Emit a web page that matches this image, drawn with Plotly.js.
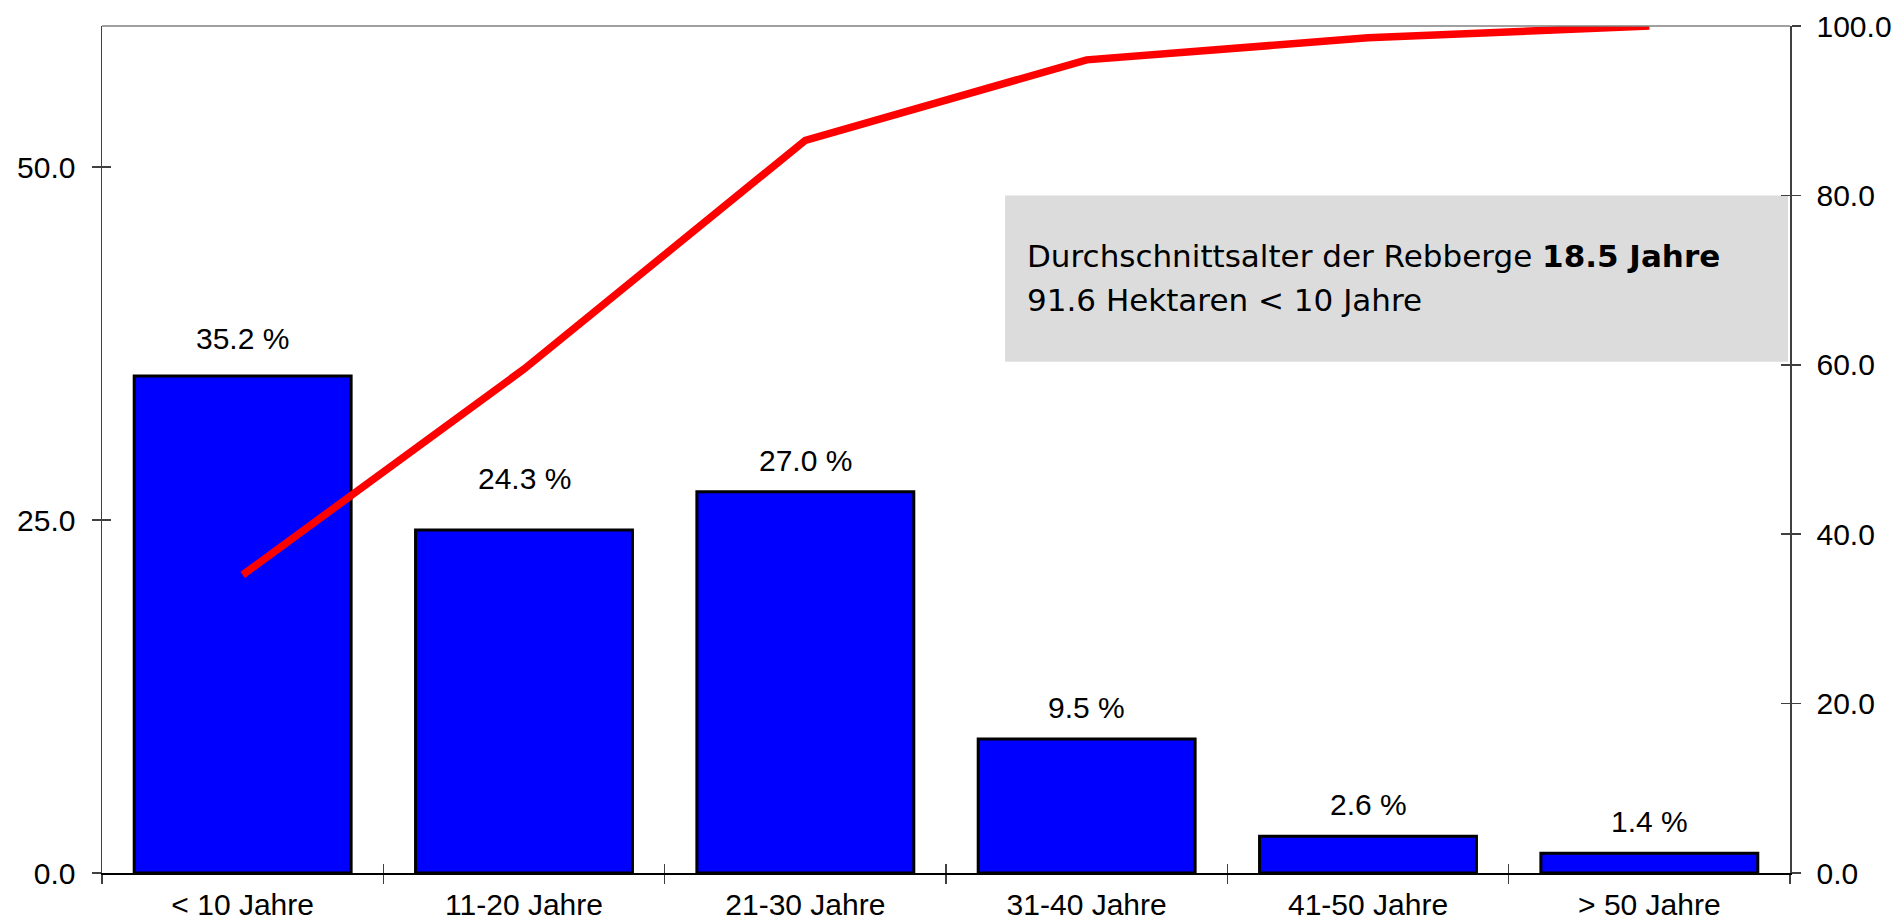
<!DOCTYPE html>
<html>
<head>
<meta charset="utf-8">
<script src="https://cdn.plot.ly/plotly-3.0.1.min.js"></script>
<style>
html,body{margin:0;padding:0;background:#fff;}
#chart{width:1898px;height:923px;}
</style>
</head>
<body>
<div id="chart"></div>
<script>
// ---- data ----
var categories = ["< 10 Jahre", "11-20 Jahre", "21-30 Jahre", "31-40 Jahre", "41-50 Jahre", "> 50 Jahre"];
var shares = [35.2, 24.3, 27.0, 9.5, 2.6, 1.4];
var cumulative = [35.2, 59.5, 86.5, 96.0, 98.6, 100.0];
var leftTicks = [0, 25, 50];
var rightTicks = [0, 20, 40, 60, 80, 100];
var infoLine1 = "Durchschnittsalter der Rebberge <b>18.5 Jahre</b>";
var infoLine2 = "91.6 Hektaren &lt; 10 Jahre";

// ---- layout helpers ----
var labelShift = [19, 33, 13, 13, 13, 13];
var arial = "Liberation Sans, Arial, sans-serif";
var axCol = "#404040";

var traces = [
  {
    type: "bar", x: categories, y: shares, xaxis: "x", yaxis: "y",
    marker: {color: "#0000ff", line: {color: "#000000", width: 3}},
    hoverinfo: "skip", showlegend: false
  },
  {
    type: "scatter", mode: "lines", x: categories, y: cumulative, xaxis: "x", yaxis: "y2",
    line: {color: "#ff0000", width: 7.5},
    hoverinfo: "skip", showlegend: false
  },
  // helper traces so that the overlay axes carry inward ticks
  {
    type: "scatter", mode: "lines", x: categories, y: shares, xaxis: "x2", yaxis: "y3",
    line: {width: 0, color: "rgba(0,0,0,0)"}, hoverinfo: "skip", showlegend: false
  },
  {
    type: "scatter", mode: "lines", x: categories, y: cumulative, xaxis: "x", yaxis: "y4",
    line: {width: 0, color: "rgba(0,0,0,0)"}, hoverinfo: "skip", showlegend: false
  }
];

var annotations = shares.map(function (v, i) {
  return {
    x: categories[i], y: v, xref: "x", yref: "y",
    text: v.toFixed(1) + " %", showarrow: false,
    xanchor: "center", yanchor: "bottom", yshift: labelShift[i],
    font: {family: arial, size: 30, color: "#000"}
  };
});
annotations.push({
  xref: "paper", yref: "paper", x: 0.5468, y: 0.7283, xanchor: "left", yanchor: "middle",
  text: infoLine1, showarrow: false, align: "left",
  font: {family: "DejaVu Sans, sans-serif", size: 31, color: "#000"}
});
annotations.push({
  xref: "paper", yref: "paper", x: 0.5468, y: 0.6764, xanchor: "left", yanchor: "middle",
  text: infoLine2, showarrow: false, align: "left",
  font: {family: "DejaVu Sans, sans-serif", size: 31, color: "#000"}
});

var layout = {
  width: 1898, height: 923,
  margin: {l: 102, r: 108, t: 26, b: 50, pad: 0},
  paper_bgcolor: "#ffffff", plot_bgcolor: "#ffffff",
  bargap: 0.229,
  font: {family: arial, size: 30, color: "#000"},
  xaxis: {
    type: "category", range: [-0.5, 5.5], tickson: "boundaries",
    ticks: "outside", ticklen: 9, tickwidth: 1.5, tickcolor: axCol,
    showline: true, linecolor: "#000", linewidth: 2, mirror: false,
    showgrid: false, zeroline: false, ticklabelstandoff: 4,
    tickfont: {family: arial, size: 30, color: "#000"}
  },
  xaxis2: {
    type: "category", overlaying: "x", anchor: "y", side: "bottom", range: [-0.5, 5.5],
    tickson: "boundaries", ticks: "inside", ticklen: 9, tickwidth: 1.5, tickcolor: axCol,
    showticklabels: false, showline: false, showgrid: false, zeroline: false
  },
  yaxis: {
    range: [0, 60], tickvals: leftTicks, tickformat: ".1f",
    ticks: "outside", ticklen: 9, tickwidth: 1.5, tickcolor: axCol,
    showline: true, linecolor: axCol, linewidth: 1.5,
    showgrid: false, zeroline: false, ticklabelstandoff: 10,
    tickfont: {family: arial, size: 30, color: "#000"}
  },
  yaxis2: {
    range: [0, 100], tickvals: rightTicks, tickformat: ".1f",
    overlaying: "y", side: "right", anchor: "x",
    ticks: "outside", ticklen: 9, tickwidth: 1.5, tickcolor: axCol,
    showline: true, linecolor: axCol, linewidth: 1.5,
    showgrid: false, zeroline: false, ticklabelstandoff: 10,
    tickfont: {family: arial, size: 30, color: "#000"}
  },
  yaxis3: {
    range: [0, 60], tickvals: leftTicks, overlaying: "y", side: "left", anchor: "x2",
    ticks: "inside", ticklen: 9, tickwidth: 1.5, tickcolor: axCol,
    showticklabels: false, showline: false, showgrid: false, zeroline: false
  },
  yaxis4: {
    range: [0, 100], tickvals: rightTicks, overlaying: "y", side: "right", anchor: "x",
    ticks: "inside", ticklen: 9, tickwidth: 1.5, tickcolor: axCol,
    showticklabels: false, showline: false, showgrid: false, zeroline: false
  },
  shapes: [
    {type: "rect", xref: "paper", yref: "paper", x0: 0.535, x1: 0.9988, y0: 0.6036, y1: 0.800,
     fillcolor: "#dcdcdc", line: {width: 0}, layer: "below"},
    {type: "line", xref: "paper", yref: "paper", x0: 0, x1: 1, y0: 1, y1: 1,
     line: {color: "#808080", width: 1.5}}
  ],
  annotations: annotations
};

Plotly.newPlot("chart", traces, layout, {displayModeBar: false, staticPlot: true});
</script>
</body>
</html>
